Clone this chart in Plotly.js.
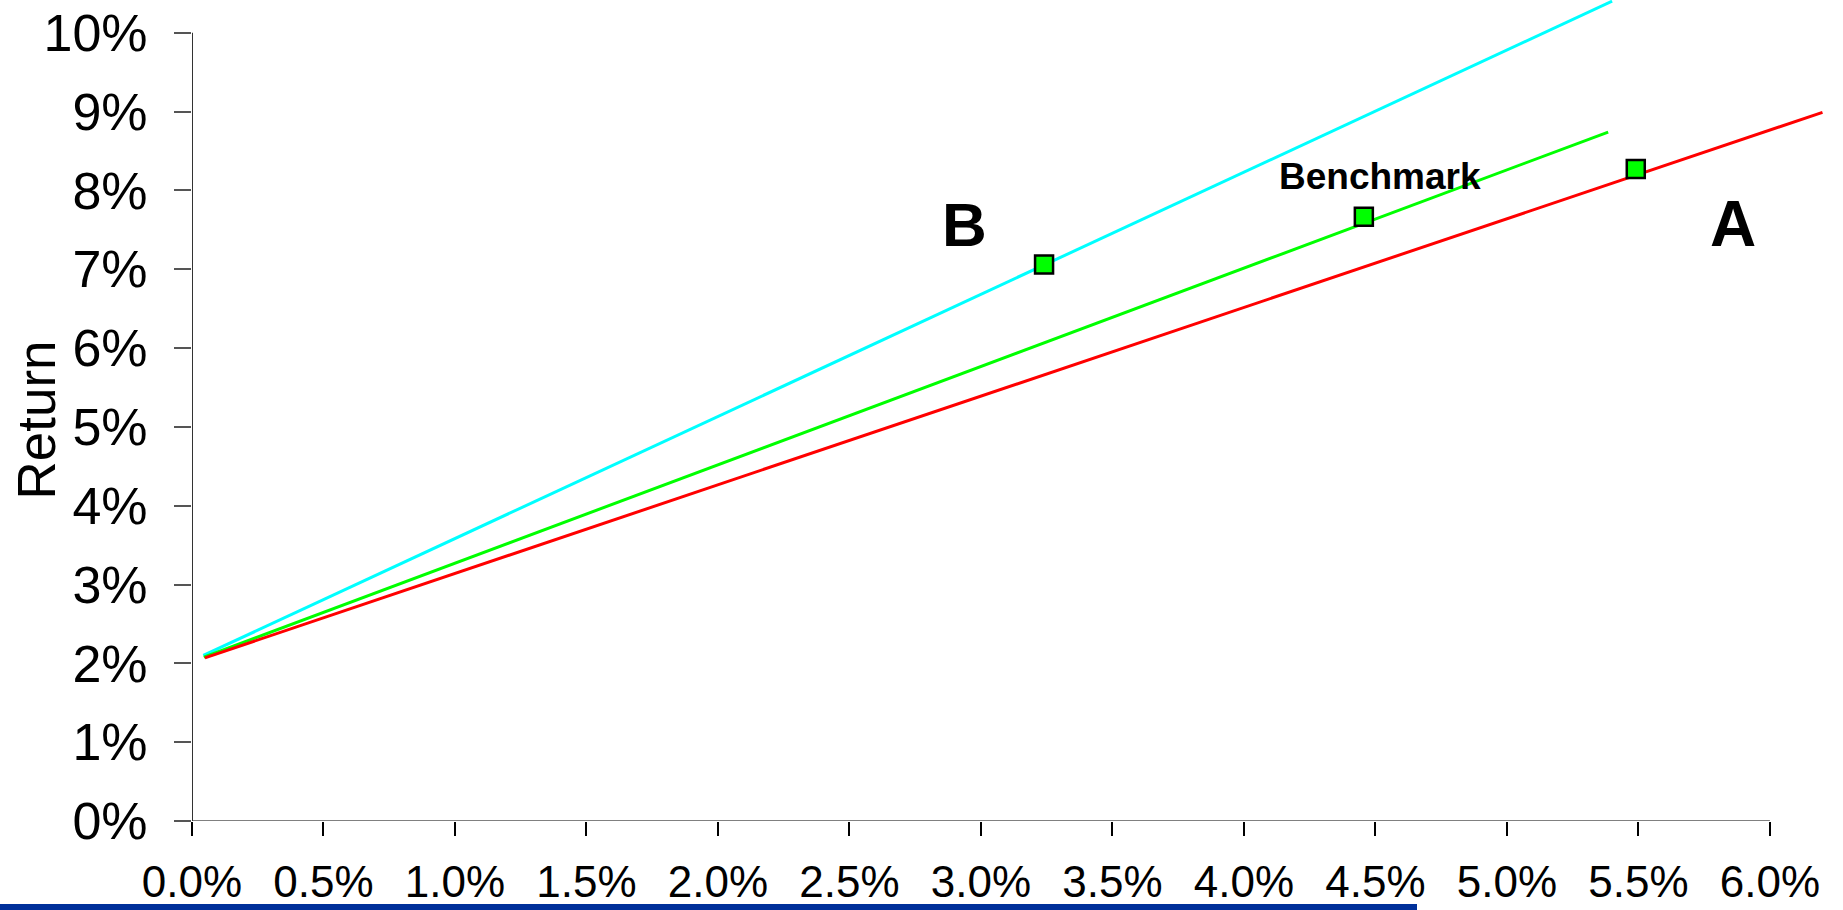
<!DOCTYPE html>
<html>
<head>
<meta charset="utf-8">
<script src="https://cdn.plot.ly/plotly-3.0.1.min.js"></script>
<style>
  html, body { margin: 0; padding: 0; background: #ffffff; }
  #chart { width: 1843px; height: 910px; }
</style>
</head>
<body>
<div id="chart"></div>
<script>
// ---- data ----
var lineNames = ["B line", "Benchmark line", "A line"];
var lineColors = ["#00ffff", "#00ff00", "#ff0000"];
var lineX = [[0.00043, 0.054], [0.00045, 0.05385], [0.00049, 0.062]];
var lineY = [[0.0210, 0.1040], [0.0208, 0.0874], [0.0207, 0.0899]];

var pointNames = ["B", "Benchmark", "A"];
var pointX = [0.0324, 0.04456, 0.0549];
var pointY = [0.0706, 0.07665, 0.0827];

var labelText = ["B", "Benchmark", "A"];
var labelX = [0.02938, 0.04517, 0.05859];
var labelY = [0.0757, 0.08173, 0.07576];
var labelSize = [62, 37, 64];

var xTickVals = [0, 0.005, 0.01, 0.015, 0.02, 0.025, 0.03, 0.035, 0.04, 0.045, 0.05, 0.055, 0.06];
var xTickText = ["0.0%", "0.5%", "1.0%", "1.5%", "2.0%", "2.5%", "3.0%", "3.5%", "4.0%", "4.5%", "5.0%", "5.5%", "6.0%"];
var yTickVals = [0, 0.01, 0.02, 0.03, 0.04, 0.05, 0.06, 0.07, 0.08, 0.09, 0.10];
var yTickText = ["0%", "1%", "2%", "3%", "4%", "5%", "6%", "7%", "8%", "9%", "10%"];
var yTitle = "Return";

var FONT = "Arial, 'Liberation Sans', Helvetica, sans-serif";

var traces = [];
for (var i = 0; i < lineNames.length; i++) {
  traces.push({
    type: "scatter", mode: "lines", name: lineNames[i],
    x: lineX[i], y: lineY[i],
    line: { color: lineColors[i], width: 3 },
    hoverinfo: "skip"
  });
}
traces.push({
  type: "scatter", mode: "markers", name: "Portfolios",
  x: pointX, y: pointY, text: pointNames,
  marker: { symbol: "square", size: 18, color: "#00ff00", line: { color: "#000000", width: 2.5 } },
  cliponaxis: false
});

var annotations = [];
for (var j = 0; j < labelText.length; j++) {
  annotations.push({
    x: labelX[j], y: labelY[j], xref: "x", yref: "y",
    text: "<b>" + labelText[j] + "</b>", showarrow: false,
    font: { family: FONT, size: labelSize[j], color: "#000000" },
    xanchor: "center", yanchor: "middle"
  });
}
annotations.push({
  x: -0.0942, y: 0.4884, xref: "paper", yref: "paper",
  text: yTitle, showarrow: false, textangle: -90,
  font: { family: FONT, size: 53, color: "#000000" },
  xanchor: "center", yanchor: "middle"
});

var layout = {
  width: 1843, height: 910,
  margin: { l: 192, r: 0, t: 0, b: 89, pad: 0 },
  paper_bgcolor: "#ffffff", plot_bgcolor: "#ffffff",
  showlegend: false,
  xaxis: {
    range: [0, 0.06278], tickvals: xTickVals, ticktext: xTickText,
    ticks: "outside", ticklen: 14, tickwidth: 2, tickcolor: "#000000",
    ticklabelstandoff: 8,
    showgrid: false, zeroline: false, showline: false,
    tickfont: { family: FONT, size: 44, color: "#000000" },
    fixedrange: true
  },
  yaxis: {
    range: [0, 0.10415], tickvals: yTickVals, ticktext: yTickText,
    ticks: "outside", ticklen: 17, tickwidth: 2, tickcolor: "#555555",
    ticklabelstandoff: 16,
    showgrid: false, zeroline: false, showline: false,
    tickfont: { family: FONT, size: 52, color: "#000000" },
    fixedrange: true
  },
  annotations: annotations,
  shapes: [
    { type: "line", xref: "x", yref: "y", x0: 0, x1: 0.06, y0: 0, y1: 0,
      line: { color: "#808080", width: 2 }, layer: "below" },
    { type: "line", xref: "x", yref: "y", x0: 0, x1: 0, y0: 0, y1: 0.10,
      line: { color: "#333333", width: 2 }, layer: "below" },
    { type: "rect", xref: "paper", yref: "paper",
      x0: -192 / 1651, x1: (1417 - 192) / 1651, y0: -89 / 821, y1: -83 / 821,
      fillcolor: "#00309a", line: { width: 0 }, layer: "above" }
  ]
};

Plotly.newPlot("chart", traces, layout, { displayModeBar: false, staticPlot: true });
</script>
</body>
</html>
